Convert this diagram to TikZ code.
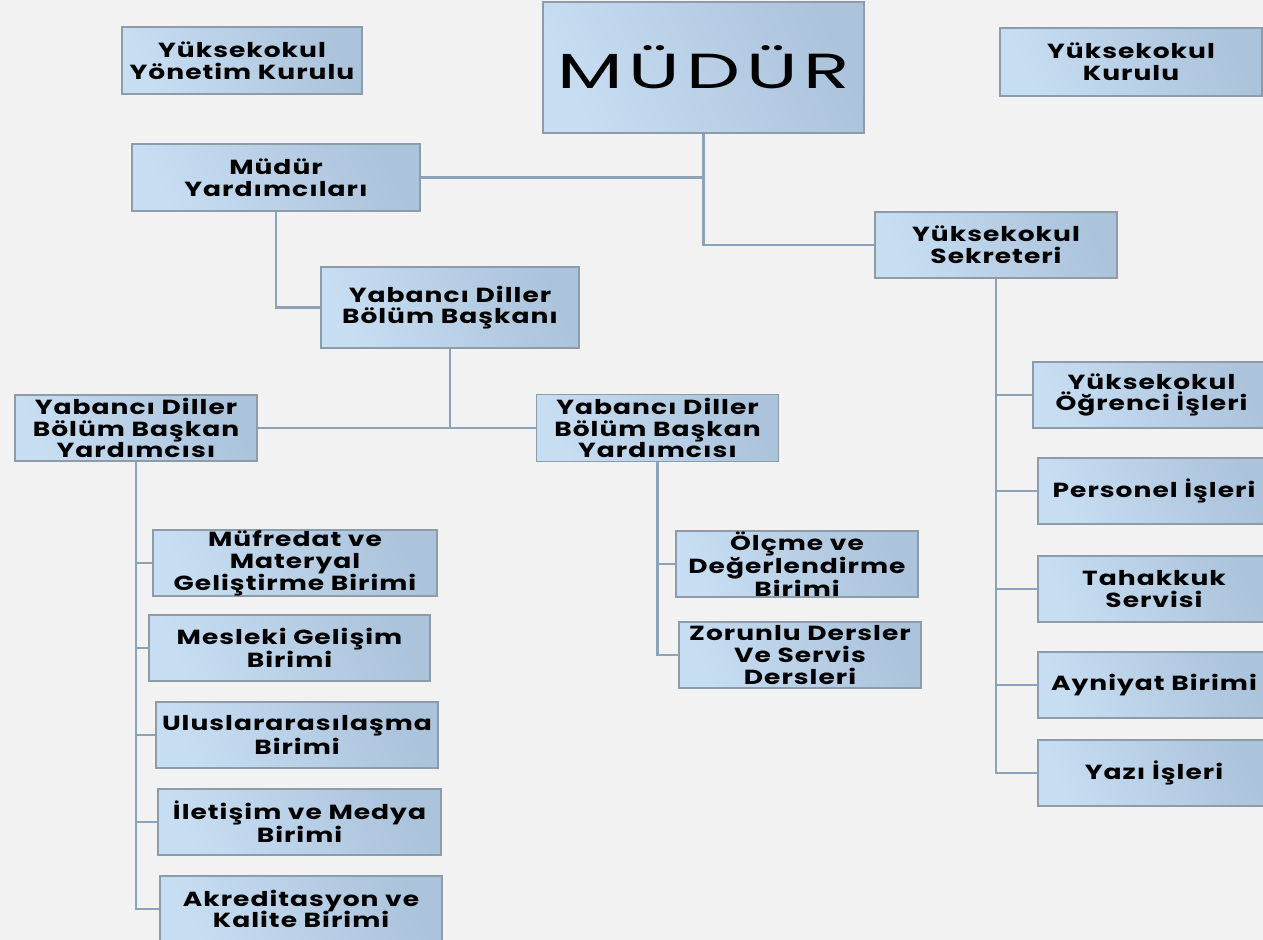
\documentclass[tikz,border=0pt]{standalone}
\usepackage{fontspec}
\newfontfamily\boxfont{Poppins}[FakeStretch=1.3, LetterSpace=5]
\newfontfamily\headfont{Poppins}[FakeStretch=1.55, LetterSpace=12]
\usetikzlibrary{positioning}
\definecolor{paper}{HTML}{F2F2F2}
\definecolor{boxlight}{HTML}{C6DDF2}
\definecolor{boxdark}{HTML}{ABC3DB}
\definecolor{boxline}{HTML}{8E9BA8}
\definecolor{wire}{HTML}{8CA2B9}
\tikzset{
  unit/.style={draw=boxline, line width=0.9pt, left color=boxlight, right color=boxdark,
    shading angle=115, align=center, inner sep=0pt,
    font=\boxfont\bfseries\fontsize{14.5}{15.5}\selectfont},
  wire/.style={draw=wire, line width=1.9pt}
}

\begin{document}
\begin{tikzpicture}[x=0.025cm, y=-0.025cm]
		%%%%% START %%%%%
		
		\fill[paper] (0, 0) rectangle (1263, 940);
		\useasboundingbox (0, 0) rectangle (1263, 940);
		
		% top row
		\node[unit, minimum width=6cm, minimum height=1.675cm] (ykyk) at (242, 60.5) {Yüksekokul\\Yönetim Kurulu};
		\node[unit, minimum width=8.025cm, minimum height=3.275cm, font=\headfont\fontsize{35}{36}\selectfont] (mudur) at (703.5, 67.5) {MÜDÜR};
		\node[unit, minimum width=6.55cm, minimum height=1.7cm] (ykk) at (1131, 62) {Yüksekokul\\Kurulu};
		
		% second level
		\node[unit, minimum width=7.2cm, minimum height=1.675cm] (myard) at (276, 177.5) {Müdür\\Yardımcıları};
		\node[unit, minimum width=6.05cm, minimum height=1.65cm] (sekr) at (996, 245) {Yüksekokul\\Sekreteri};
		\node[unit, minimum width=6.45cm, minimum height=2.025cm] (baskan) at (450, 307.5) {Yabancı Diller\\Bölüm Başkanı};
		
		\node[unit, minimum width=6.05cm, minimum height=1.65cm] (yrdA) at (136, 428) {Yabancı Diller\\Bölüm Başkan\\Yardımcısı};
		\node[unit, minimum width=6.05cm, minimum height=1.675cm] (yrdB) at (657.5, 428) {Yabancı Diller\\Bölüm Başkan\\Yardımcısı};
		
		% units under first assistant
		\node[unit, minimum width=7.1cm, minimum height=1.65cm] (muf) at (295, 563) {Müfredat ve\\Materyal\\Geliştirme Birimi};
		\node[unit, minimum width=7.025cm, minimum height=1.65cm] (mes) at (289.5, 648) {Mesleki Gelişim\\Birimi};
		\node[unit, minimum width=7.05cm, minimum height=1.65cm] (ulu) at (297, 735) {Uluslararasılaşma\\Birimi};
		\node[unit, minimum width=7.075cm, minimum height=1.65cm] (ilet) at (299.5, 822) {İletişim ve Medya\\Birimi};
		\node[unit, minimum width=7.05cm, minimum height=1.65cm] (akr) at (301, 909) {Akreditasyon ve\\Kalite Birimi};
		
		% units under second assistant
		\node[unit, minimum width=6.05cm, minimum height=1.65cm] (olc) at (797, 564) {Ölçme ve\\Değerlendirme\\Birimi};
		\node[unit, minimum width=6.05cm, minimum height=1.65cm] (zor) at (800, 655) {Zorunlu Dersler\\Ve Servis\\Dersleri};
		
		% units under the secretary
		\node[unit, minimum width=5.925cm, minimum height=1.65cm] (ogr) at (1151.5, 395) {Yüksekokul\\Öğrenci İşleri};
		\node[unit, minimum width=5.8cm, minimum height=1.65cm] (pers) at (1154, 491) {Personel İşleri};
		\node[unit, minimum width=5.8cm, minimum height=1.65cm] (tah) at (1154, 589) {Tahakkuk\\Servisi};
		\node[unit, minimum width=5.8cm, minimum height=1.65cm] (ayn) at (1154, 685) {Ayniyat Birimi};
		\node[unit, minimum width=5.8cm, minimum height=1.65cm] (yazi) at (1154, 773) {Yazı İşleri};
		
		% connectors
		\draw[wire] (mudur.south) |- (sekr.west);
		\draw[wire] (myard.east) -- (myard.east -| mudur.south);
		\draw[wire] (myard.south) |- (baskan.west);
		\draw[wire] (baskan.south) -- (baskan.south |- yrdA.east);
		\draw[wire] (yrdA.east) -- (yrdB.west);
		
		\draw[wire] (yrdA.south) |- (muf.west);
		\draw[wire] (yrdA.south) |- (mes.west);
		\draw[wire] (yrdA.south) |- (ulu.west);
		\draw[wire] (yrdA.south) |- (ilet.west);
		\draw[wire] (yrdA.south) |- (akr.west);
		
		\draw[wire] (yrdB.south) |- (olc.west);
		\draw[wire] (yrdB.south) |- (zor.west);
		
		\draw[wire] (sekr.south) |- (ogr.west);
		\draw[wire] (sekr.south) |- (pers.west);
		\draw[wire] (sekr.south) |- (tah.west);
		\draw[wire] (sekr.south) |- (ayn.west);
		\draw[wire] (sekr.south) |- (yazi.west);
		
		%%%%% END %%%%%
\end{tikzpicture}
\end{document}
